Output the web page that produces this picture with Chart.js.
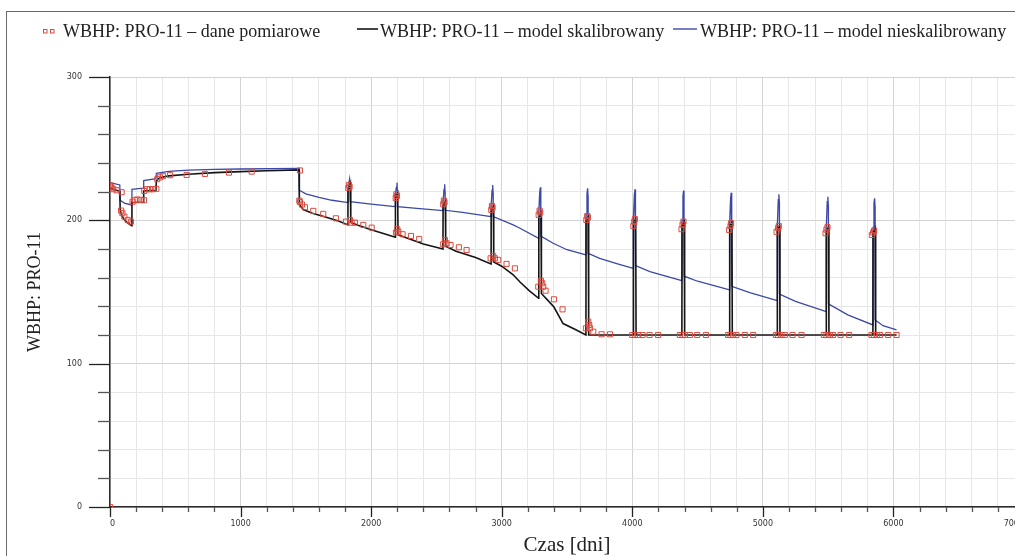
<!DOCTYPE html>
<html>
<head>
<meta charset="utf-8">
<title>WBHP PRO-11</title>
<script src="https://cdn.jsdelivr.net/npm/chart.js@4.4.0/dist/chart.umd.min.js"></script>
<style>
  html, body { margin: 0; padding: 0; background: #fff; overflow: hidden; }
  #wrap { position: absolute; left: 0; top: 0; width: 1040px; height: 556px; }
</style>
</head>
<body>
<div id="wrap"><canvas id="myChart" width="1040" height="556"></canvas></div>
<script>

//// data ////

const seriesNames = [
    'WBHP: PRO-11 \u2013 dane pomiarowe',
    'WBHP: PRO-11 \u2013 model skalibrowany',
    'WBHP: PRO-11 \u2013 model nieskalibrowany'
];

// measured points (days, bar)
const measDays = [0, 0, 4, 12, 25, 51, 89, 85, 95, 110, 135, 160,
    173, 191, 210, 235, 260, 262, 283, 305, 330, 355,
    362, 383, 405, 460, 587, 727, 911, 1085, 1455,
    1450, 1455, 1470, 1493, 1557, 1633, 1730, 1807,
    1825, 1830, 1835, 1838, 1851, 1876, 1940, 2004,
    2188, 2193, 2198, 2190, 2200, 2208, 2241, 2305, 2368,
    2552, 2557, 2562, 2552, 2565, 2578, 2608, 2672, 2731,
    2920, 2925, 2930, 2915, 2935, 2948, 2973, 3037, 3101,
    3283, 3290, 3295, 3280, 3300, 3310, 3318, 3336, 3400, 3466,
    3648, 3655, 3660, 3645, 3663, 3670, 3675, 3701, 3765, 3829,
    4008, 4015, 4020, 4000, 4020, 4045, 4079, 4132, 4198,
    4377, 4385, 4392, 4364, 4385, 4403, 4441, 4497, 4564,
    4742, 4752, 4757, 4734, 4752, 4772, 4798, 4862, 4926,
    5105, 5117, 5122, 5100, 5117, 5143, 5168, 5227, 5296,
    5480, 5487, 5495, 5467, 5487, 5513, 5538, 5595, 5661,
    5835, 5845, 5852, 5832, 5850, 5875, 5898, 5960, 6024];
const measWbhp = [0, 224.5, 223.5, 222.8, 221.7, 221, 219.6, 206.8, 205, 202.6, 200.3, 199.1,
    213, 214.3, 214.5, 214.3, 214, 220.5, 221.7, 221.7, 221.7, 222,
    228.7, 230, 230.8, 231.5, 231.7, 232.4, 233.3, 234, 234.8,
    213.8, 212.8, 211, 209.1, 206.6, 204.5, 201.4, 199.1,
    222.5, 224.7, 223.5, 200.3, 198.4, 198.4, 196.8, 194.9,
    215.5, 218.2, 217, 191.5, 193.8, 192.1, 190.3, 189.1, 187,
    211.2, 213.8, 212.5, 183.3, 186.3, 184, 182.8, 181.2, 179.3,
    207.3, 210, 209, 173.5, 175.2, 173.5, 172.4, 169.6, 166.5,
    203.8, 206.8, 205.5, 153.7, 157.9, 156.1, 153.7, 150.9, 144.9, 137.9,
    200.3, 203, 202, 124.7, 129.3, 127, 124.7, 122.3, 120.5, 120.5,
    196, 199, 200.8, 120, 120, 120, 120, 120, 120,
    193.8, 197, 199.1, 120, 120, 120, 120, 120, 120,
    193.3, 196, 198, 120, 120, 120, 120, 120, 120,
    192, 194.5, 196, 120, 120, 120, 120, 120, 120,
    191, 193.5, 195.2, 120, 120, 120, 120, 120, 120,
    189.8, 191.5, 192.8, 120, 120, 120, 120, 120, 120];

// calibrated model
const calDays = [0, 75, 78, 88, 105, 130, 166, 168, 255, 258, 352, 355, 380, 450, 600, 800, 1000, 1200, 1448,
    1450, 1480, 1550, 1650, 1750, 1822,
    1823, 1841, 1844, 1900, 2000, 2100, 2185,
    2186, 2203, 2206, 2300, 2400, 2550,
    2551, 2568, 2571, 2650, 2800, 2918,
    2919, 2936, 2939, 3000, 3088, 3140, 3210, 3283,
    3284, 3301, 3304, 3350, 3400, 3470, 3560, 3645,
    3646, 3663, 3666, 4008,
    4009, 4026, 4029, 4380,
    4381, 4398, 4401, 4745,
    4746, 4763, 4766, 5110,
    5111, 5128, 5131, 5485,
    5486, 5503, 5506, 5843,
    5844, 5861, 5864, 6024];
const calWbhp = [222.4, 220.3, 207.5, 204, 201, 198.5, 196.3, 212.4, 212.6, 220.5, 221, 227.5, 229.8, 231, 232.2, 233.3, 234, 234.6, 235.2,
    211, 207.5, 205, 202.3, 199.5, 196.8,
    221, 225.8, 198.5, 196.5, 193.5, 190.6, 188.2,
    215.5, 218.9, 190, 186.8, 183.5, 180,
    210, 213, 182, 178.5, 174, 169.6,
    206.5, 209.6, 171, 168, 162, 157, 151, 145.6,
    202, 205, 149, 144.5, 139.5, 128, 124, 120,
    199.5, 202.6, 120, 120,
    198, 201, 120, 120,
    196, 199, 120, 120,
    195.5, 198.4, 120, 120,
    193, 196, 120, 120,
    192.2, 195.2, 120, 120,
    191.5, 194.5, 120, 120];

// uncalibrated model
const uncalDays = [0, 75, 78, 110, 166, 168, 255, 258, 352, 355, 450, 600, 800, 1000, 1448,
    1450, 1500, 1600, 1700, 1822,
    1823, 1830, 1835, 1839, 1840, 2000, 2185,
    2186, 2193, 2198, 2201, 2202, 2350, 2550,
    2551, 2558, 2563, 2566, 2567, 2700, 2918,
    2919, 2926, 2931, 2934, 2935, 3088, 3140, 3283,
    3284, 3291, 3296, 3299, 3300, 3394, 3500, 3645,
    3646, 3653, 3658, 3661, 3662, 3750, 3900, 4008,
    4009, 4016, 4021, 4024, 4025, 4135, 4380,
    4381, 4388, 4393, 4396, 4397, 4500, 4745,
    4746, 4753, 4758, 4761, 4762, 4900, 5110,
    5111, 5118, 5123, 5126, 5127, 5250, 5485,
    5486, 5493, 5498, 5501, 5502, 5650, 5843,
    5844, 5851, 5856, 5859, 5860, 5920, 6024];
const uncalWbhp = [226.3, 224.7, 214, 212, 210.7, 221.7, 222.4, 227.7, 229, 232.8, 234.2, 235, 235.5, 235.8, 236.3,
    221, 218.5, 216, 214, 212.4,
    222, 226, 228.7, 224, 213, 211.3, 209.6,
    218, 223, 226.3, 221, 209.5, 208.3, 206.8,
    213, 221.5, 225.2, 220, 207, 205.5, 202.6,
    210, 221, 224.7, 219, 202.6, 196.8, 194.5, 187.5,
    206, 219.5, 223, 218, 189, 184, 179.5, 175.9,
    204, 218.5, 222.4, 217, 177, 173.5, 169.3, 166.5,
    202, 218, 221.7, 216, 168.5, 164.2, 157.9,
    200, 217, 220.8, 215, 161, 157.5, 151.5,
    199, 215.5, 219.3, 214, 154, 149.5, 144,
    197, 214.5, 218.2, 213, 148.6, 143.5, 136.3,
    196, 213, 216.5, 211, 141.7, 134, 127,
    195, 212, 215.4, 210, 130.5, 126.5, 123.5];

// axes
const xMajor = 1000, xMinor = 200, xMax = 7000;
const yMajor = 100, yMinor = 20, yMax = 300;

const colRed = '#dc4a3e';
const colBlack = '#151515';
const colBlue = '#3c48a6';

function toPoints(xs, ys) {
    return xs.map(function (x, i) { return {x: x, y: ys[i]}; });
}

//// extra drawing: frame, minor/major tick marks, legend ////

const framePlugin = {
    id: 'frame',
    beforeDraw: function (chart) {
        const ctx = chart.ctx;
        ctx.save();
        ctx.strokeStyle = '#6a6a6a';
        ctx.lineWidth = 1;
        ctx.strokeRect(6.5, 11.5, 3000, 3000);
        ctx.restore();
    }
};

const tickMarks = {
    id: 'tickMarks',
    afterDraw: function (chart) {
        const ctx = chart.ctx;
        const xs = chart.scales.x, ys = chart.scales.y;
        const left = chart.chartArea.left, bottom = chart.chartArea.bottom;
        ctx.save();
        ctx.lineWidth = 1.3;
        ys.ticks.forEach(function (t) {
            const py = Math.round(ys.getPixelForValue(t.value)) + 0.5;
            const major = t.value % yMajor === 0;
            ctx.strokeStyle = major ? '#222' : '#555';
            ctx.beginPath();
            ctx.moveTo(left - (major ? 21 : 12), py);
            ctx.lineTo(left, py);
            ctx.stroke();
        });
        xs.ticks.forEach(function (t) {
            const px = Math.round(xs.getPixelForValue(t.value)) + 0.5;
            const major = t.value % xMajor === 0;
            ctx.strokeStyle = major ? '#222' : '#555';
            ctx.beginPath();
            ctx.moveTo(px, bottom);
            ctx.lineTo(px, bottom + (major ? 10 : 5));
            ctx.stroke();
        });
        ctx.restore();
    }
};

const legendRow = {
    id: 'legendRow',
    afterDraw: function (chart) {
        const ctx = chart.ctx;
        const y = 29;
        ctx.save();
        // measured: two small squares
        ctx.strokeStyle = colRed;
        ctx.lineWidth = 1;
        ctx.strokeRect(43.5, 29.5, 3.5, 3.5);
        ctx.strokeRect(50.5, 29.5, 3.5, 3.5);
        // model lines
        ctx.lineWidth = 1.6;
        ctx.strokeStyle = colBlack;
        ctx.beginPath(); ctx.moveTo(357, y); ctx.lineTo(378, y); ctx.stroke();
        ctx.lineWidth = 1.4;
        ctx.strokeStyle = colBlue;
        ctx.beginPath(); ctx.moveTo(673, y); ctx.lineTo(697, y); ctx.stroke();

        ctx.fillStyle = '#222';
        ctx.font = '18px "Liberation Serif"';
        ctx.textBaseline = 'alphabetic';
        ctx.fillText(seriesNames[0], 63, 37);
        ctx.fillText(seriesNames[1], 380, 37);
        ctx.fillText(seriesNames[2], 700, 37);
        ctx.restore();
    }
};

//// chart ////

function render_chart() {
    const ctx = document.getElementById('myChart');
    const myChart = new Chart(ctx, {
        type: 'line',
        data: {
            datasets: [{
                label: seriesNames[0],
                data: toPoints(measDays, measWbhp),
                showLine: false,
                pointStyle: 'rect',
                pointRadius: 3.6,
                pointBorderWidth: 1,
                pointBorderColor: colRed,
                pointBackgroundColor: 'rgba(0,0,0,0)',
                borderColor: colRed
            }, {
                label: seriesNames[1],
                data: toPoints(calDays, calWbhp),
                borderColor: colBlack,
                borderWidth: 1.6,
                pointRadius: 0,
                tension: 0
            }, {
                label: seriesNames[2],
                data: toPoints(uncalDays, uncalWbhp),
                borderColor: colBlue,
                borderWidth: 1.3,
                pointRadius: 0,
                tension: 0
            }]
        },
        options: {
            responsive: false,
            animation: false,
            layout: { padding: { left: 0, top: 77, right: 16, bottom: 0 } },
            plugins: {
                legend: { display: false },
                tooltip: { enabled: false }
            },
            scales: {
                x: {
                    type: 'linear',
                    min: 0,
                    max: xMax,
                    ticks: {
                        stepSize: xMinor,
                        autoSkip: false,
                        maxRotation: 0,
                        align: 'inner',
                        padding: 2,
                        color: '#333',
                        font: { family: 'DejaVu Sans', size: 8 },
                        callback: function (v) { return v % xMajor === 0 ? String(v) : ''; }
                    },
                    grid: {
                        color: function (c) { return c.tick && c.tick.value % xMajor === 0 ? '#d3d3d3' : '#e7e7e7'; },
                        lineWidth: 1,
                        tickLength: 10,
                        tickColor: 'rgba(0,0,0,0)'
                    },
                    border: { color: '#2a2a2a', width: 1.5 },
                    title: {
                        display: true,
                        text: 'Czas [dni]',
                        color: '#222',
                        font: { family: 'Liberation Serif', size: 21, lineHeight: 1 },
                        padding: { top: 0, bottom: 0.5 }
                    },
                    afterFit: function (s) { s.height = 49; s.paddingLeft = 0; s.paddingRight = 0; }
                },
                y: {
                    min: 0,
                    max: yMax,
                    ticks: {
                        stepSize: yMinor,
                        autoSkip: false,
                        padding: 8,
                        color: '#333',
                        font: { family: 'DejaVu Sans', size: 8 },
                        callback: function (v) { return v % yMajor === 0 ? String(v) : ''; }
                    },
                    grid: {
                        color: function (c) { return c.tick && c.tick.value % yMajor === 0 ? '#d3d3d3' : '#e7e7e7'; },
                        lineWidth: 1,
                        tickLength: 20,
                        tickColor: 'rgba(0,0,0,0)'
                    },
                    border: { color: '#2a2a2a', width: 1.5 },
                    title: {
                        display: true,
                        text: 'WBHP: PRO-11',
                        color: '#222',
                        font: { family: 'Liberation Serif', size: 18, lineHeight: 1.2 },
                        padding: { top: 24, bottom: 0 }
                    },
                    afterFit: function (s) { s.width = 110; s.paddingTop = 0; s.paddingBottom = 0; }
                }
            }
        },
        plugins: [framePlugin, tickMarks, legendRow]
    });
    return myChart;
}

render_chart();
</script>
</body>
</html>
